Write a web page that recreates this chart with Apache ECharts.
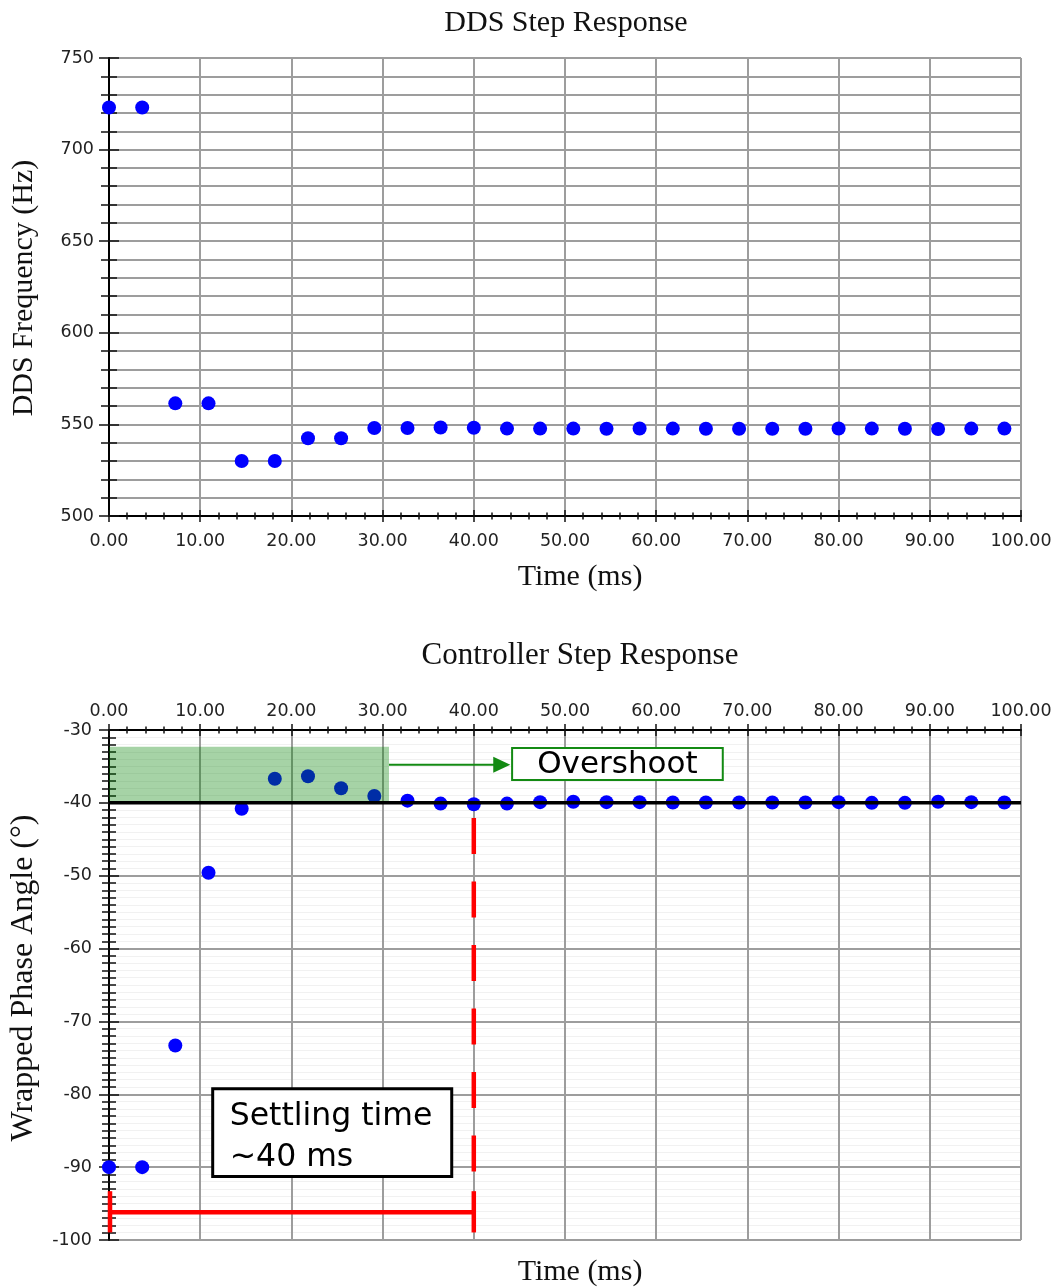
<!DOCTYPE html>
<html>
<head>
<meta charset="utf-8">
<title>DDS and Controller Step Response</title>
<script src="https://cdn.jsdelivr.net/npm/echarts@6/dist/echarts.min.js"></script>
<style>
  html, body { margin: 0; padding: 0; background: #ffffff; }
  #chart { width: 1056px; height: 1288px; }
</style>
</head>
<body>
<div id="chart"></div>
<script>
// Sample times (ms) shared by both measurements
const timeMs = [0.00, 3.64, 7.27, 10.91, 14.55, 18.18, 21.82, 25.45, 29.09, 32.73,
  36.36, 40.00, 43.64, 47.27, 50.91, 54.55, 58.18, 61.82, 65.45, 69.09,
  72.73, 76.36, 80.00, 83.64, 87.27, 90.91, 94.55, 98.18];

// DDS output frequency (Hz)
const ddsFreqHz = [723, 723, 561.5, 561.5, 530, 530, 542.4, 542.4, 548, 548,
  548.3, 548.2, 547.7, 547.7, 547.7, 547.6, 547.8, 547.7, 547.6, 547.6,
  547.6, 547.6, 547.8, 547.7, 547.6, 547.5, 547.7, 547.7];

// Wrapped phase angle at the controller (degrees)
const phaseDeg = [-90, -90, -73.3, -49.6, -40.8, -36.7, -36.35, -38.0, -39.05, -39.7,
  -40.1, -40.2, -40.1, -39.9, -39.85, -39.9, -39.9, -39.95, -39.95, -39.95,
  -39.95, -39.95, -39.9, -40.0, -40.0, -39.85, -39.9, -39.95];

// Phase set point and annotation anchors (data units)
const setpointDeg = -40;
const overshootBand = [0, 30.7, -32.3, -40];      // x0, x1, yTop, yBottom
const settlingTimeMs = 40;

const SERIF = '"Liberation Serif", "Times New Roman", serif';
const SANS = '"DejaVu Sans", Verdana, sans-serif';
const GRID_LINE = { color: '#9d9d9d', width: 2 };
const TICK_LINE = { color: '#111', width: 1.5 };
const LABEL = { color: '#222', fontFamily: SANS, fontSize: 17.5 };

const zip = (xs, ys) => xs.map((x, i) => [x, ys[i]]);

function timeAxis(gridIndex, position, inner) {
  const base = {
    type: 'value', gridIndex, position, min: 0, max: 100, interval: 10,
    axisTick: { show: true, inside: inner, length: 6, lineStyle: TICK_LINE },
    minorTick: { show: true, splitNumber: 5, length: 3.5, lineStyle: TICK_LINE }
  };
  if (inner) {
    return Object.assign(base, {
      axisLine: { show: false }, axisLabel: { show: false }, splitLine: { show: false }
    });
  }
  return Object.assign(base, {
    axisLine: { show: true, onZero: false, lineStyle: { color: '#000', width: 2 } },
    axisLabel: Object.assign({ margin: position === 'top' ? 10 : 16, formatter: v => v.toFixed(2) }, LABEL),
    splitLine: { show: true, lineStyle: GRID_LINE }
  });
}

function valueAxis(gridIndex, min, max, interval, minorSplit, majorLen, minorLen, minorGrid, inner, margin) {
  const base = {
    type: 'value', gridIndex, position: 'left', min, max, interval,
    axisTick: { show: true, inside: inner, length: majorLen, lineStyle: TICK_LINE },
    minorTick: { show: true, splitNumber: minorSplit, length: minorLen, lineStyle: TICK_LINE }
  };
  if (inner) {
    return Object.assign(base, {
      axisLine: { show: false }, axisLabel: { show: false }, splitLine: { show: false }
    });
  }
  return Object.assign(base, {
    axisLine: { show: true, onZero: false, lineStyle: { color: '#000', width: 2 } },
    axisLabel: Object.assign({ margin }, LABEL),
    splitLine: { show: true, lineStyle: GRID_LINE },
    minorSplitLine: minorGrid
  });
}

const chart = echarts.init(document.getElementById('chart'), null, { renderer: 'canvas' });

const option = {
  animation: false,
  backgroundColor: '#ffffff',
  grid: [
    { left: 109, right: 35, top: 58, height: 458 },
    { left: 109, right: 35, top: 730, height: 510 }
  ],
  xAxis: [
    timeAxis(0, 'bottom', false),
    timeAxis(0, 'bottom', true),
    timeAxis(1, 'top', false),
    timeAxis(1, 'top', true)
  ],
  yAxis: [
    valueAxis(0, 500, 750, 50, 5, 10, 8, { show: true, lineStyle: GRID_LINE }, false, 15),
    valueAxis(0, 500, 750, 50, 5, 10, 8, null, true),
    valueAxis(1, -100, -30, 10, 10, 10, 7, { show: true, lineStyle: { color: '#f1f1f1', width: 1 } }, false, 17),
    valueAxis(1, -100, -30, 10, 10, 10, 7, null, true)
  ],
  graphic: [
    { type: 'text', x: 566, y: 23, style: { text: 'DDS Step Response', font: '30px ' + SERIF, fill: '#111', align: 'center', verticalAlign: 'middle' } },
    { type: 'text', x: 580, y: 577, style: { text: 'Time (ms)', font: '30px ' + SERIF, fill: '#111', align: 'center', verticalAlign: 'middle' } },
    { type: 'text', x: 24, y: 288, rotation: Math.PI / 2, style: { text: 'DDS Frequency (Hz)', font: '30px ' + SERIF, fill: '#111', align: 'center', verticalAlign: 'middle' } },
    { type: 'text', x: 580, y: 656, style: { text: 'Controller Step Response', font: '31px ' + SERIF, fill: '#111', align: 'center', verticalAlign: 'middle' } },
    { type: 'text', x: 580, y: 1272, style: { text: 'Time (ms)', font: '30px ' + SERIF, fill: '#111', align: 'center', verticalAlign: 'middle' } },
    { type: 'text', x: 24, y: 978, rotation: Math.PI / 2, style: { text: 'Wrapped Phase Angle (°)', font: '32px ' + SERIF, fill: '#111', align: 'center', verticalAlign: 'middle' } }
  ],
  series: [
    {
      name: 'DDS frequency', type: 'scatter', xAxisIndex: 0, yAxisIndex: 0,
      data: zip(timeMs, ddsFreqHz), symbolSize: 14, itemStyle: { color: '#0000ff', opacity: 1 }, z: 2
    },
    {
      name: 'Phase angle', type: 'scatter', xAxisIndex: 2, yAxisIndex: 2,
      data: zip(timeMs, phaseDeg), symbolSize: 14, itemStyle: { color: '#0000ff', opacity: 1 }, z: 2
    },
    {
      // shaded overshoot region, drawn over the points
      name: 'Overshoot region', type: 'custom', xAxisIndex: 2, yAxisIndex: 2, z: 3, silent: true,
      data: [overshootBand],
      renderItem(params, api) {
        const p0 = api.coord([api.value(0), api.value(2)]);
        const p1 = api.coord([api.value(1), api.value(3)]);
        return {
          type: 'rect',
          shape: { x: p0[0], y: p0[1], width: p1[0] - p0[0], height: p1[1] - p0[1] },
          style: { fill: 'rgba(0,128,0,0.35)' }
        };
      }
    },
    {
      name: 'Set point', type: 'line', xAxisIndex: 2, yAxisIndex: 2, z: 4, silent: true,
      data: [[0, setpointDeg], [100, setpointDeg]], symbol: 'none',
      lineStyle: { color: '#000', width: 3.5 }
    },
    {
      // callouts: overshoot arrow + label, settling time marker + label
      name: 'Annotations', type: 'custom', xAxisIndex: 2, yAxisIndex: 2, z: 5, silent: true,
      data: [[0]],
      renderItem(params, api) {
        const c = (x, y) => api.coord([x, y]);
        const green = '#138a13';
        const red = '#ff0000';

        // overshoot arrow
        const a0 = c(overshootBand[1], -34.76);
        const a1 = c(44.0, -34.76);
        // overshoot label box
        const ob0 = c(44.2, -32.47);
        const ob1 = c(67.3, -36.86);
        // settling time label box
        const sb0 = c(11.37, -79.25);
        const sb1 = c(37.58, -91.28);
        // dashed settling-time marker
        const d0 = c(settlingTimeMs, -42.07);
        const d1 = c(settlingTimeMs, -90.6);
        // bracket from step to settling
        const bl = c(0, -96.2);
        const br = c(settlingTimeMs, -96.2);
        const capTop = c(0, -93.3)[1];
        const capBot = c(0, -98.96)[1];

        return {
          type: 'group',
          children: [
            { type: 'line', shape: { x1: a0[0], y1: a0[1], x2: a1[0] - 14, y2: a1[1] },
              style: { stroke: green, lineWidth: 2 } },
            { type: 'polygon', shape: { points: [[a1[0], a1[1]], [a1[0] - 17, a1[1] - 8], [a1[0] - 17, a1[1] + 8]] },
              style: { fill: green } },
            { type: 'rect', shape: { x: ob0[0], y: ob0[1], width: ob1[0] - ob0[0], height: ob1[1] - ob0[1] },
              style: { fill: '#fff', stroke: green, lineWidth: 2 } },
            { type: 'text', x: (ob0[0] + ob1[0]) / 2, y: (ob0[1] + ob1[1]) / 2 + 1,
              style: { text: 'Overshoot', font: '31px ' + SANS, fill: '#000', align: 'center', verticalAlign: 'middle' } },

            { type: 'rect', shape: { x: sb0[0], y: sb0[1], width: sb1[0] - sb0[0], height: sb1[1] - sb0[1] },
              style: { fill: '#fff', stroke: '#000', lineWidth: 3 } },
            { type: 'text', x: sb0[0] + 17, y: sb0[1] + 28,
              style: { text: 'Settling time', font: '31.5px ' + SANS, fill: '#000', align: 'left', verticalAlign: 'middle' } },
            { type: 'text', x: sb0[0] + 17, y: sb0[1] + 69,
              style: { text: '~40 ms', font: '31.5px ' + SANS, fill: '#000', align: 'left', verticalAlign: 'middle' } },

            { type: 'line', shape: { x1: d0[0], y1: d0[1], x2: d1[0], y2: d1[1] },
              style: { stroke: red, lineWidth: 4.5, lineDash: [36, 27.5] } },
            { type: 'line', shape: { x1: bl[0], y1: bl[1], x2: br[0], y2: br[1] },
              style: { stroke: red, lineWidth: 4.5 } },
            { type: 'line', shape: { x1: bl[0] + 1, y1: capTop, x2: bl[0] + 1, y2: capBot },
              style: { stroke: red, lineWidth: 4.5 } },
            { type: 'line', shape: { x1: br[0], y1: capTop, x2: br[0], y2: capBot },
              style: { stroke: red, lineWidth: 4.5 } }
          ]
        };
      }
    }
  ]
};

chart.setOption(option);
</script>
</body>
</html>
